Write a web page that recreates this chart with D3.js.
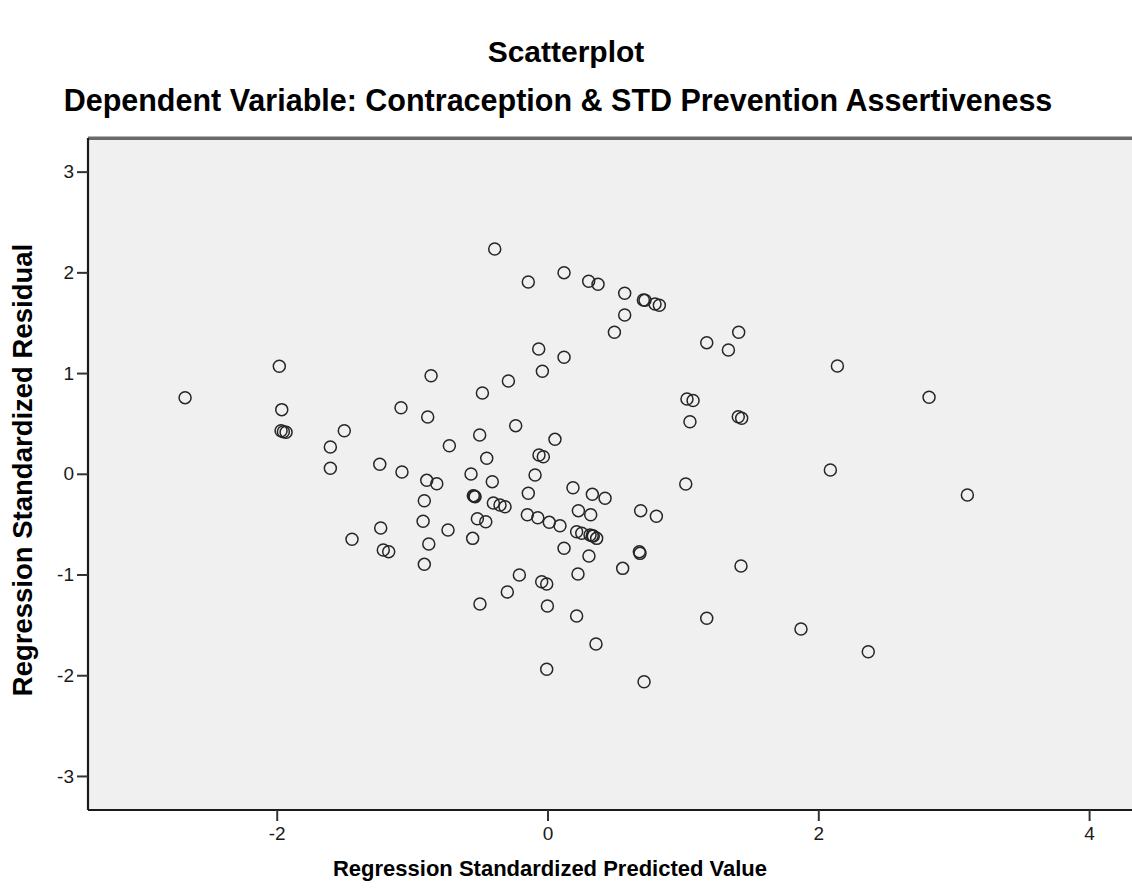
<!DOCTYPE html>
<html>
<head>
<meta charset="utf-8">
<script src="https://cdn.jsdelivr.net/npm/d3@7"></script>
<style>
  html, body { margin: 0; padding: 0; background: #ffffff; }
  svg { display: block; }
  text { font-family: "Liberation Sans", Arial, sans-serif; }
</style>
</head>
<body>
<svg id="chart" width="1132" height="894"></svg>
<script>
// ---- data ----
const chartTitle = "Scatterplot";
const chartSubtitle = "Dependent Variable: Contraception & STD Prevention Assertiveness";
const xAxisTitle = "Regression Standardized Predicted Value";
const yAxisTitle = "Regression Standardized Residual";

const xTicks = [-2, 0, 2, 4];
const yTicks = [-3, -2, -1, 0, 1, 2, 3];

const predicted = [
  -2.677, -1.981, -1.963, -1.968, -1.951, -1.931, -1.501, -1.604, -1.604, -1.239,
  -1.075, -1.082, -0.885, -0.860, -0.481, -0.501, -0.725, -0.449, -0.565, -0.892,
  -0.818, -0.408, -0.548, -0.535, -0.541, -0.400, -0.351, -0.314, -0.910, -0.919,
  -0.518, -0.456, -0.735, -0.553, -1.232, -1.444, -1.213, -1.173, -0.877, -0.910,
  -0.390, -0.142, 0.122, 0.304, 0.373, 0.570, 0.708, 0.720, 0.794, 0.826,
  0.570, 0.494, 1.176, 1.412, 1.336, -0.065, 0.122, -0.038, -0.289, 1.030,
  1.075, 1.409, 1.434, 1.052, -0.235, 0.055, -0.063, -0.031, -0.092, -0.142,
  0.188, 0.331, 0.425, 0.228, 0.319, 0.688, 0.804, 1.021, -0.149, -0.072,
  0.013, 0.092, 0.215, 0.253, 0.314, 0.338, 0.363, 0.330, 0.122, 0.306,
  0.678, 0.683, 0.555, 1.429, 0.225, -0.208, -0.043, -0.006, -0.297, -0.499,
  -0.001, 0.215, 1.176, 0.358, -0.006, 0.713, 2.141, 2.818, 2.089, 3.101,
  1.872, 2.369
];
const residual = [
  0.756, 1.068, 0.637, 0.428, 0.418, 0.412, 0.428, 0.266, 0.055, 0.094,
  0.018, 0.656, 0.564, 0.974, 0.802, 0.385, 0.279, 0.154, -0.002, -0.065,
  -0.098, -0.078, -0.217, -0.227, -0.222, -0.290, -0.310, -0.327, -0.267, -0.472,
  -0.446, -0.476, -0.558, -0.641, -0.538, -0.650, -0.757, -0.773, -0.697, -0.899,
  2.232, 1.905, 1.997, 1.912, 1.882, 1.792, 1.726, 1.723, 1.686, 1.673,
  1.577, 1.405, 1.302, 1.405, 1.229, 1.239, 1.157, 1.018, 0.922, 0.742,
  0.728, 0.567, 0.551, 0.517, 0.478, 0.342, 0.187, 0.170, -0.012, -0.194,
  -0.138, -0.204, -0.243, -0.366, -0.406, -0.366, -0.422, -0.101, -0.406, -0.436,
  -0.482, -0.515, -0.575, -0.591, -0.608, -0.618, -0.641, -0.615, -0.740, -0.816,
  -0.773, -0.790, -0.939, -0.916, -0.995, -1.005, -1.071, -1.094, -1.174, -1.293,
  -1.313, -1.412, -1.435, -1.690, -1.941, -2.064, 1.071, 0.760, 0.038, -0.211,
  -1.541, -1.766
];

// ---- layout ----
const svg = d3.select("#chart");
const plot = { left: 88, right: 1140, top: 139, bottom: 810 };

const x = d3.scaleLinear().domain([-3.394, 4.376]).range([plot.left, plot.right]);
const y = d3.scaleLinear().domain([-3.338, 3.324]).range([plot.bottom, plot.top]);

// plot background
svg.append("rect")
  .attr("x", plot.left).attr("y", plot.top)
  .attr("width", plot.right - plot.left).attr("height", plot.bottom - plot.top)
  .attr("fill", "#f0f0f0");

// top border (grey, slightly doubled)
svg.append("line").attr("x1", plot.left).attr("x2", plot.right)
  .attr("y1", plot.top - 2.5).attr("y2", plot.top - 2.5)
  .attr("stroke", "#b4b4b4").attr("stroke-width", 1);
svg.append("line").attr("x1", plot.left).attr("x2", plot.right)
  .attr("y1", plot.top - 0.5).attr("y2", plot.top - 0.5)
  .attr("stroke", "#6a6a6a").attr("stroke-width", 3);

// points
const pts = predicted.map((p, i) => ({ p, r: residual[i] }));
svg.append("g").selectAll("circle").data(pts).join("circle")
  .attr("cx", d => x(d.p))
  .attr("cy", d => y(d.r))
  .attr("r", 6)
  .attr("fill", "none")
  .attr("stroke", "#262626")
  .attr("stroke-width", 1.5);

// axes (hyphen-minus labels as in the reference)
const fmt = d => String(d);
const xAxis = d3.axisBottom(x).tickValues(xTicks).tickFormat(fmt)
  .tickSizeOuter(0).tickSizeInner(11).tickPadding(6);
const gx = svg.append("g").attr("transform", `translate(0,${plot.bottom})`).call(xAxis);

const yAxis = d3.axisLeft(y).tickValues(yTicks).tickFormat(fmt)
  .tickSizeOuter(0).tickSizeInner(11).tickPadding(3);
const gy = svg.append("g").attr("transform", `translate(${plot.left},0)`).call(yAxis);

[gx, gy].forEach(g => {
  g.select(".domain").attr("stroke", "#1a1a1a").attr("stroke-width", 2.2);
  g.selectAll(".tick line").attr("stroke", "#333").attr("stroke-width", 2);
  g.selectAll(".tick text")
    .attr("fill", "#1a1a1a")
    .style("font-size", "19px")
    .style("font-family", "'Liberation Sans', Arial, sans-serif");
});
gx.select(".domain").attr("d", `M${plot.left},0H${plot.right}`);
gy.select(".domain").attr("d", `M0,${plot.top - 1}V${plot.bottom}`);

// titles
svg.append("text")
  .attr("x", 566).attr("y", 62)
  .attr("text-anchor", "middle")
  .style("font-size", "30px").style("font-weight", "bold")
  .attr("fill", "#000")
  .text(chartTitle);

svg.append("text")
  .attr("x", 558).attr("y", 111)
  .attr("text-anchor", "middle")
  .style("font-size", "30.5px").style("font-weight", "bold")
  .attr("fill", "#000")
  .text(chartSubtitle);

svg.append("text")
  .attr("x", 550).attr("y", 876)
  .attr("text-anchor", "middle")
  .style("font-size", "22px").style("font-weight", "bold")
  .attr("fill", "#000")
  .text(xAxisTitle);

svg.append("text")
  .attr("transform", "translate(32,470) rotate(-90)")
  .attr("text-anchor", "middle")
  .style("font-size", "27.5px").style("font-weight", "bold")
  .attr("fill", "#000")
  .text(yAxisTitle);
</script>
</body>
</html>
